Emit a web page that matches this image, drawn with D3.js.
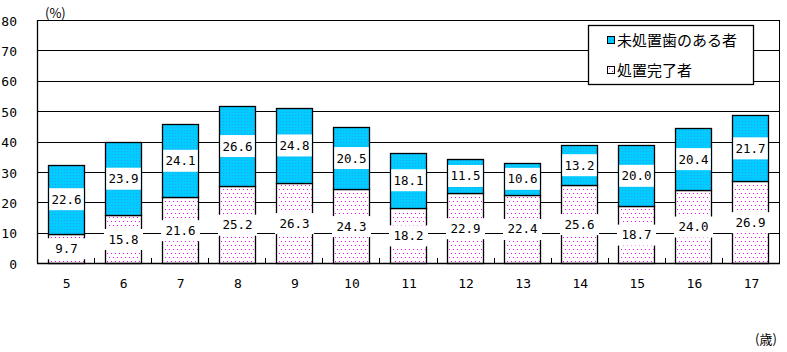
<!DOCTYPE html>
<html><head><meta charset="utf-8">
<script src="https://cdn.jsdelivr.net/npm/d3@7"></script>
<style>body{margin:0;background:#fff}svg{display:block}.dot{shape-rendering:crispEdges}</style>
</head><body>
<svg id="c" width="787" height="352"></svg>
<script>
const ages = ["5","6","7","8","9","10","11","12","13","14","15","16","17"];
const completed = [9.7,15.8,21.6,25.2,26.3,24.3,18.2,22.9,22.4,25.6,18.7,24.0,26.9];
const untreated = [22.6,23.9,24.1,26.6,24.8,20.5,18.1,11.5,10.6,13.2,20.0,20.4,21.7];
const yTicks = [0,10,20,30,40,50,60,70,80];
const seriesNames = ["未処置歯のある者","処置完了者"];

const svg = d3.select("#c");
const L = 37, R = 779, T = 20, B = 263;
const x = d3.scaleBand().domain(ages).range([L, R]).paddingInner(0.37).paddingOuter(0.185);
const y = d3.scaleLinear().domain([0, 80]).range([B, T]);
const numFont = "'DejaVu Sans Mono', monospace";
const jpFont = "'Noto Sans CJK JP', sans-serif";

const defs = svg.append("defs");
const pb = defs.append("pattern").attr("id","blue").attr("patternUnits","userSpaceOnUse").attr("width",3).attr("height",3);
pb.append("rect").attr("width",3).attr("height",3).attr("fill","#00CCFF");
pb.append("rect").attr("x",1).attr("y",1).attr("width",1).attr("height",1).attr("fill","#2AA0F0");

// magenta dot texture drawn explicitly inside a rectangle
function dots(sel, x0, y0, x1, y1) {
  const pts = [];
  for (let yy = Math.ceil(y0); yy < y1; yy++) {
    for (let xx = Math.ceil(x0); xx < x1; xx++) {
      if ((yy % 8 === 1 && xx % 4 === 1) || (yy % 8 === 5 && xx % 4 === 3)) pts.push([xx, yy]);
    }
  }
  sel.append("g").selectAll("rect").data(pts).join("rect").attr("class","dot")
    .attr("x",d=>d[0]).attr("y",d=>d[1]).attr("width",1).attr("height",1).attr("fill","#FF00FF");
}

// gridlines
svg.append("g").selectAll("line").data(yTicks.filter(d=>d>0)).join("line")
  .attr("x1",L).attr("x2",R).attr("y1",d=>Math.round(y(d))+0.5).attr("y2",d=>Math.round(y(d))+0.5)
  .attr("stroke","#000").attr("stroke-width",1);
// right border
svg.append("line").attr("x1",R+0.5).attr("x2",R+0.5).attr("y1",Math.round(y(80))).attr("y2",B).attr("stroke","#000");

// bars
const bw = Math.round(x.bandwidth());
const g = svg.append("g");
ages.forEach((a,i)=>{
  const x0 = Math.round(x(a))+0.5;
  const c = completed[i], u = untreated[i];
  const yc = Math.round(y(c)), yt = Math.round(y(c+u)), y0 = Math.round(y(0));
  g.append("rect").attr("x",x0).attr("y",yc+0.5).attr("width",bw).attr("height",y0-yc)
    .attr("fill","#fff").attr("stroke","#000").attr("stroke-width",1.3);
  dots(g, x0+1.5, yc+2, x0+bw-1, y0);
  g.append("rect").attr("x",x0).attr("y",yt+0.5).attr("width",bw).attr("height",yc-yt)
    .attr("fill","url(#blue)").attr("stroke","#000").attr("stroke-width",1.3);
});
// labels
ages.forEach((a,i)=>{
  const x0 = Math.round(x(a));
  const c = completed[i], u = untreated[i];
  const cx = x0 + bw/2 + 0.5;
  const ym1 = y(c/2), ym2 = y(c + u/2);
  g.append("rect").attr("x",x0-1).attr("y",ym1-10).attr("width",bw+3).attr("height",21).attr("fill","#fff");
  g.append("rect").attr("x",x0+1.2).attr("y",ym2-11).attr("width",bw-1.4).attr("height",22).attr("fill","#fff");
  [[c,ym1],[u,ym2]].forEach(([v,ym])=>{
    g.append("text").attr("x",cx).attr("y",ym).attr("dy","0.36em").attr("text-anchor","middle")
      .attr("font-family",numFont).attr("font-size",12.5).attr("fill","#000").text(v.toFixed(1));
  });
});

// axes lines
svg.append("line").attr("x1",L+0.5).attr("x2",L+0.5).attr("y1",T).attr("y2",B+0.5).attr("stroke","#000").attr("stroke-width",1.3);
svg.append("line").attr("x1",L).attr("x2",R+1).attr("y1",B+0.5).attr("y2",B+0.5).attr("stroke","#000").attr("stroke-width",1.3);
// band boundary ticks
const step = x.step();
d3.range(1, ages.length).forEach(k=>{
  const xx = Math.round(L + k*step)+0.5;
  svg.append("line").attr("x1",xx).attr("x2",xx).attr("y1",B-5).attr("y2",B).attr("stroke","#000");
});

// y tick labels
svg.append("g").selectAll("text").data(yTicks).join("text")
  .attr("x",17).attr("y",d=>y(d)+1).attr("dy","0.36em").attr("text-anchor","end")
  .attr("font-family",numFont).attr("font-size",13).text(d=>d);
// x labels
svg.append("g").selectAll("text").data(ages).join("text")
  .attr("x",d=>x(d)+bw/2+1).attr("y",283).attr("dy","0.36em").attr("text-anchor","middle")
  .attr("font-family",numFont).attr("font-size",13).text(d=>d);

svg.append("text").attr("x",45).attr("y",13).attr("dy","0.36em").attr("font-family",jpFont).attr("font-size",13).text("(%)");
svg.append("text").attr("x",755).attr("y",339).attr("dy","0.36em").attr("font-family",jpFont).attr("font-size",13).text("(歳)");

// legend
const lg = svg.append("g");
lg.append("rect").attr("x",588.5).attr("y",25.5).attr("width",165).attr("height",59).attr("fill","#fff").attr("stroke","#000").attr("stroke-width",1.3);
seriesNames.forEach((n,k)=>{
  const yy = 41 + k*30;
  lg.append("rect").attr("x",607.5).attr("y",yy-4.5).attr("width",7).attr("height",7)
    .attr("fill",k===0?"url(#blue)":"#fff").attr("stroke","#000");
  if (k===1) {
    lg.append("rect").attr("class","dot").attr("x",609).attr("y",yy-3).attr("width",1).attr("height",1).attr("fill","#FF00FF");
    lg.append("rect").attr("class","dot").attr("x",612).attr("y",yy).attr("width",1).attr("height",1).attr("fill","#FF00FF");
  }
  lg.append("text").attr("x",617).attr("y",yy).attr("dy","0.36em").attr("font-family",jpFont).attr("font-size",15).text(n);
});
</script>
</body></html>
